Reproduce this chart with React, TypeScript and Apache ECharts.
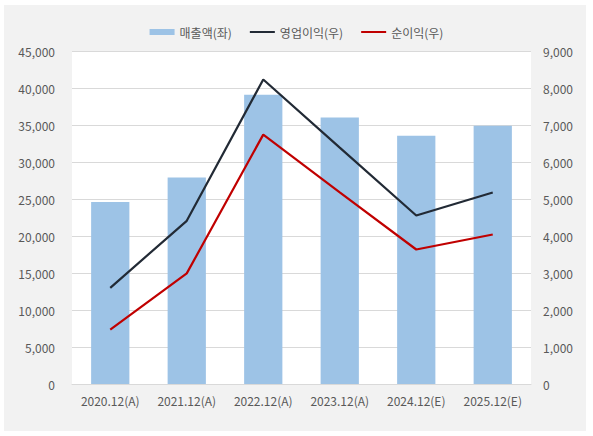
import React, { useEffect, useRef } from 'react';
import * as echarts from 'echarts';

const categories = ['2020.12(A)', '2021.12(A)', '2022.12(A)', '2023.12(A)', '2024.12(E)', '2025.12(E)'];
const revenue = [24600, 27900, 39100, 36000, 33560, 34900];
const operatingProfit = [2600, 4410, 8230, 6390, 4555, 5177];
const netProfit = [1470, 2990, 6740, 5180, 3635, 4040];
const seriesNames = ['매출액(좌)', '영업이익(우)', '순이익(우)'];

const fmt = (v: number) => v.toLocaleString('en-US');
const FONT = '"Noto Sans CJK KR", "Noto Sans", sans-serif';
const LINE_ICON = 'path://M0,0h25v2h-25z';

const App: React.FC = () => {
    const chartRef = useRef<HTMLDivElement>(null);

    useEffect(() => {
        document.body.style.margin = '0';
        if (!chartRef.current) return;
        const chart = echarts.init(chartRef.current, null, { renderer: 'svg' });

        const option = {
            animation: false,
            backgroundColor: '#ffffff',
            textStyle: { fontFamily: FONT },
            graphic: [
                {
                    type: 'rect',
                    z: -10,
                    silent: true,
                    shape: { x: 4, y: 5, width: 582, height: 426 },
                    style: { fill: '#f2f2f2' },
                },
            ],
            legend: {
                top: 21,
                left: 'center',
                itemWidth: 25,
                itemHeight: 6,
                itemGap: 18,
                textStyle: { color: '#595959', fontSize: 12, fontFamily: FONT },
                data: [
                    { name: seriesNames[0], icon: 'rect' },
                    { name: seriesNames[1], icon: LINE_ICON },
                    { name: seriesNames[2], icon: LINE_ICON },
                ],
            },
            grid: {
                left: 72,
                right: 62,
                top: 51,
                bottom: 52,
                show: true,
                backgroundColor: '#ffffff',
                borderWidth: 0,
            },
            xAxis: {
                type: 'category',
                data: categories,
                axisTick: { show: false },
                axisLine: { lineStyle: { color: '#d9d9d9', width: 1 } },
                axisLabel: { color: '#595959', fontSize: 12, margin: 10, fontFamily: FONT },
            },
            yAxis: [
                {
                    type: 'value',
                    min: 0,
                    max: 45000,
                    interval: 5000,
                    axisLine: { show: false },
                    axisTick: { show: false },
                    splitLine: { lineStyle: { color: '#d9d9d9', width: 1 } },
                    axisLabel: { color: '#595959', fontSize: 12, margin: 17, formatter: fmt, fontFamily: FONT },
                },
                {
                    type: 'value',
                    min: 0,
                    max: 9000,
                    interval: 1000,
                    axisLine: { show: false },
                    axisTick: { show: false },
                    splitLine: { show: false },
                    axisLabel: { color: '#595959', fontSize: 12, margin: 12, formatter: fmt, fontFamily: FONT },
                },
            ],
            series: [
                {
                    name: seriesNames[0],
                    type: 'bar',
                    data: revenue,
                    barWidth: '50%',
                    itemStyle: { color: '#9dc3e6' },
                },
                {
                    name: seriesNames[1],
                    type: 'line',
                    yAxisIndex: 1,
                    data: operatingProfit,
                    symbol: 'none',
                    lineStyle: { color: '#222a35', width: 2.2 },
                    itemStyle: { color: '#222a35' },
                },
                {
                    name: seriesNames[2],
                    type: 'line',
                    yAxisIndex: 1,
                    data: netProfit,
                    symbol: 'none',
                    lineStyle: { color: '#c00000', width: 2.2 },
                    itemStyle: { color: '#c00000' },
                },
            ],
        };

        chart.setOption(option);
        return () => {
            chart.dispose();
        };
    }, []);

    return <div ref={chartRef} style={{ width: '593px', height: '436px' }} />;
};

export default App;
